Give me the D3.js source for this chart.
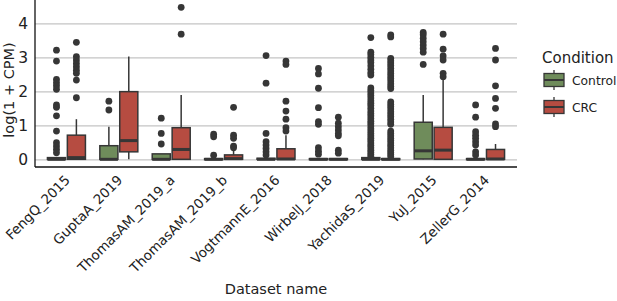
<!DOCTYPE html>
<html>
<head>
<meta charset="utf-8">
<script src="https://cdn.jsdelivr.net/npm/d3@7"></script>
<style>
  body { margin: 0; background: #fff; }
  svg { display: block; font-family: "DejaVu Sans", sans-serif; }
</style>
</head>
<body>
<svg id="chart" width="617" height="301"></svg>
<script>
// dataset names and conditions
var datasets = ["FengQ_2015", "GuptaA_2019", "ThomasAM_2019_a", "ThomasAM_2019_b",
                "VogtmannE_2016", "WirbelJ_2018", "YachidaS_2019", "YuJ_2015", "ZellerG_2014"];
var conditions = ["Control", "CRC"];
var yTicks = [0, 1, 2, 3, 4];

// box stats, log(1 + CPM)
var controlQ1   = [0, 0, 0, 0, 0, 0, 0, 0.01, 0];
var controlMed  = [0, 0, 0, 0, 0, 0, 0, 0.25, 0];
var controlQ3   = [0.05, 0.40, 0.16, 0.02, 0.03, 0.02, 0.05, 1.09, 0.02];
var controlLo   = [0, 0, 0, 0, 0, 0, 0, 0, 0];
var controlHi   = [0.05, 0.96, 0.16, 0.02, 0.03, 0.02, 0.05, 1.89, 0.02];
var controlOut  = [
  [3.21, 2.89, 2.35, 2.25, 2.16, 2.06, 1.60, 1.53, 1.28, 0.83, 0.49, 0.39, 0.29, 0.19],
  [1.71, 1.45],
  [1.21, 0.76, 0.45],
  [0.74, 0.66, 0.12],
  [3.05, 2.24, 0.76, 0.52, 0.42, 0.32, 0.22, 0.13],
  [2.67, 2.51, 2.09, 1.52, 1.11, 1.03, 0.34, 0.24, 0.15],
  [3.58, 3.15, 3.08, 3.00, 2.92, 2.85, 2.75, 2.65, 2.55, 2.48, 2.10, 2.02, 1.95, 1.88,
   1.80, 1.72, 1.65, 1.58, 1.50, 1.42, 1.35, 1.28, 1.20, 1.12, 1.05, 0.98, 0.90, 0.83,
   0.76, 0.69, 0.62, 0.55, 0.48, 0.41, 0.34, 0.27, 0.20, 0.14, 0.08],
  [3.73, 3.66, 3.56, 3.46, 3.36, 3.26, 3.15, 2.79],
  [1.60, 1.24, 0.81, 0.71, 0.62, 0.52, 0.42, 0.22, 0.13]
];

var crcQ1   = [0, 0.22, 0, 0, 0, 0, 0, 0, 0];
var crcMed  = [0.05, 0.55, 0.29, 0.02, 0.01, 0, 0, 0.27, 0.01];
var crcQ3   = [0.71, 1.99, 0.93, 0.13, 0.31, 0.02, 0.02, 0.94, 0.29];
var crcLo   = [0, 0, 0, 0, 0, 0, 0, 0, 0];
var crcHi   = [1.18, 3.02, 1.89, 0.27, 0.71, 0.02, 0.02, 2.33, 0.45];
var crcOut  = [
  [3.44, 3.02, 2.92, 2.82, 2.72, 2.62, 2.53, 2.33, 1.81],
  [],
  [4.47, 3.68],
  [1.53, 0.71, 0.62, 0.39, 0.34],
  [2.89, 2.79, 1.71, 1.42, 1.18, 0.93, 0.83],
  [1.24, 1.06, 0.96, 0.86, 0.76, 0.69, 0.27, 0.18],
  [3.66, 3.60, 2.97, 2.90, 2.83, 2.76, 2.68, 2.60, 2.52, 2.45, 2.38, 2.30, 2.22, 2.15,
   2.08, 1.69, 1.62, 1.55, 1.48, 1.40, 1.33, 1.26, 1.18, 1.10, 1.03, 0.83, 0.76, 0.69,
   0.62, 0.55, 0.48, 0.41, 0.34, 0.27, 0.20, 0.14, 0.08],
  [3.68, 3.24, 3.04, 2.92, 2.53, 2.43],
  [3.26, 2.92, 2.16, 1.79, 1.50, 1.04, 0.96]
];

var colors = { Control: "#6f8c5b", CRC: "#b64c41" };
var ink = "#363636";

var svg = d3.select("#chart"),
    margin = {top: 0, left: 35, bottom: 134, right: 100},
    width = 617 - margin.right,
    height = 301 - margin.bottom;

var x = d3.scaleLinear().domain([-0.6, 8.6]).range([margin.left, width]);
var y = d3.scaleLinear().domain([-0.226, 4.685]).range([height, margin.top]);
var hue = d3.scaleOrdinal().domain(conditions).range([-0.19, 0.19]);
var boxW = x(0.345) - x(0);

// gridlines + y tick labels
var yAxis = svg.append("g")
    .attr("transform", `translate(${margin.left},0)`)
    .call(d3.axisLeft(y).tickValues(yTicks).tickFormat(d3.format("d"))
        .tickSize(-(width - margin.left)).tickPadding(7));
yAxis.select(".domain").remove();
yAxis.selectAll("line").attr("stroke", "#c4c4c4").attr("stroke-width", 1.2);
yAxis.selectAll("text").style("font-size", "15.5px").attr("fill", "#222").attr("font-family", "DejaVu Sans");

// rows of boxes
var rows = [];
datasets.forEach(function(d, i) {
    rows.push({i: i, cond: "Control", q1: controlQ1[i], med: controlMed[i], q3: controlQ3[i],
               lo: controlLo[i], hi: controlHi[i], out: controlOut[i]});
    rows.push({i: i, cond: "CRC", q1: crcQ1[i], med: crcMed[i], q3: crcQ3[i],
               lo: crcLo[i], hi: crcHi[i], out: crcOut[i]});
});

var box = svg.selectAll("g.box").data(rows).enter().append("g").attr("class", "box");

box.append("line")
    .attr("x1", d => x(d.i + hue(d.cond))).attr("x2", d => x(d.i + hue(d.cond)))
    .attr("y1", d => y(d.q3)).attr("y2", d => y(d.hi))
    .attr("stroke", ink).attr("stroke-width", 1.5);
box.append("line")
    .attr("x1", d => x(d.i + hue(d.cond))).attr("x2", d => x(d.i + hue(d.cond)))
    .attr("y1", d => y(d.q1)).attr("y2", d => y(d.lo))
    .attr("stroke", ink).attr("stroke-width", 1.5);
box.append("rect")
    .attr("x", d => x(d.i + hue(d.cond)) - boxW / 2)
    .attr("width", boxW)
    .attr("y", d => y(d.q3))
    .attr("height", d => Math.max(1, y(d.q1) - y(d.q3)))
    .attr("fill", d => colors[d.cond])
    .attr("stroke", ink).attr("stroke-width", 1.5);
box.append("line")
    .attr("x1", d => x(d.i + hue(d.cond)) - boxW / 2).attr("x2", d => x(d.i + hue(d.cond)) + boxW / 2)
    .attr("y1", d => y(d.med)).attr("y2", d => y(d.med))
    .attr("stroke", ink).attr("stroke-width", 3);

box.selectAll("circle").data(d => d.out.map(v => ({v: v, i: d.i, cond: d.cond})))
    .enter().append("circle")
    .attr("cx", d => x(d.i + hue(d.cond)))
    .attr("cy", d => y(d.v))
    .attr("r", 3.4)
    .attr("fill", ink);

// spines
svg.append("line").attr("x1", margin.left).attr("x2", margin.left)
    .attr("y1", margin.top).attr("y2", height).attr("stroke", "#111").attr("stroke-width", 1.3);
svg.append("line").attr("x1", margin.left).attr("x2", width)
    .attr("y1", height).attr("y2", height).attr("stroke", "#111").attr("stroke-width", 1.3);

// x tick labels
var xAxis = svg.append("g")
    .attr("transform", `translate(0,${height})`)
    .call(d3.axisBottom(x).tickValues(d3.range(datasets.length)).tickFormat(i => datasets[i]).tickSize(0));
xAxis.select(".domain").remove();
xAxis.selectAll("text")
    .attr("y", 0).attr("dy", 0)
    .attr("transform", "translate(4,14) rotate(-45)")
    .style("text-anchor", "end")
    .style("font-size", "13.5px").attr("fill", "#222").attr("font-family", "DejaVu Sans");

// axis titles
svg.append("text").attr("x", 276).attr("y", 294).attr("text-anchor", "middle")
    .style("font-size", "14.5px").attr("fill", "#222").text("Dataset name");
svg.append("text").attr("transform", "translate(13.5,90) rotate(-90)")
    .attr("text-anchor", "middle").style("font-size", "14.5px").attr("fill", "#222").text("log(1 + CPM)");

// legend
svg.append("text").attr("x", 542).attr("y", 63).style("font-size", "15px").attr("fill", "#222").text("Condition");
var posY = 80;
for (var k = 0; k < conditions.length; k++) {
    var lg = svg.append("g").attr("transform", `translate(554,${posY})`);
    lg.append("line").attr("x1", 0).attr("x2", 0).attr("y1", -10).attr("y2", 10).attr("stroke", ink).attr("stroke-width", 1.3);
    lg.append("rect").attr("x", -10).attr("y", -6.5).attr("width", 20).attr("height", 13)
        .attr("fill", colors[conditions[k]]).attr("stroke", ink).attr("stroke-width", 1.3);
    lg.append("line").attr("x1", -10).attr("x2", 10).attr("y1", 0).attr("y2", 0).attr("stroke", ink).attr("stroke-width", 2);
    lg.append("text").attr("x", 18).attr("y", 5).style("font-size", "12.3px").attr("fill", "#222").text(conditions[k]);
    posY += 27;
}
</script>
</body>
</html>
